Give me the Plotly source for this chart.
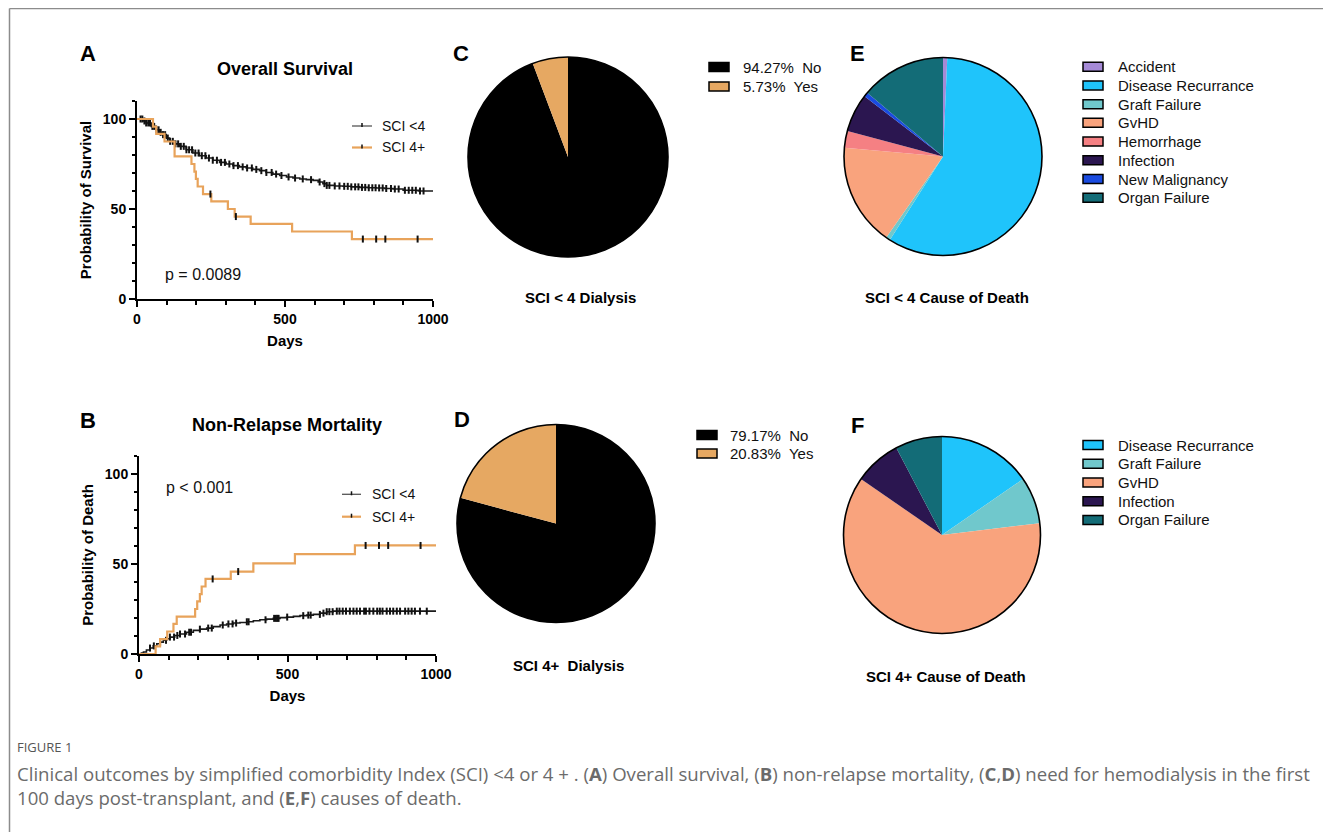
import plotly.graph_objects as go

OFF = 8  # page body margin of the exported html
W, H = 1331 - OFF, 832 - OFF

# ---------------- data ----------------
groups = ["SCI <4", "SCI 4+"]

# Panel A: overall survival (days, %)
os_low_t = [0, 9, 20, 31, 48, 65, 77, 88, 99, 110, 127, 144, 166, 189, 211, 234, 256, 279, 301, 324,
            346, 369, 391, 414, 436, 459, 482, 505, 527, 550, 572, 595, 612, 628, 640, 668, 696, 724,
            752, 781, 809, 837, 865, 899, 950, 1000]
os_low_s = [100, 100, 98.9, 97.8, 95.9, 94.0, 92.6, 91.3, 89.4, 87.6, 86.2, 84.8, 82.9, 81.1, 79.6,
            78.3, 77.1, 75.9, 75.0, 74.1, 73.4, 72.8, 72.0, 71.3, 70.3, 69.4, 68.6, 67.8, 67.2, 66.7,
            66.3, 65.9, 65.0, 64.1, 63.1, 62.8, 62.6, 62.3, 62.0, 61.8, 61.7, 61.4, 61.1, 60.4, 60.0, 59.6]
os_low_cens = [12, 18, 25, 31, 38, 44, 52, 58, 66, 73, 80, 88, 95, 104, 112, 121, 130, 139, 148, 158,
               167, 176, 186, 197, 208, 219, 231, 243, 256, 270, 284, 297, 312, 326, 341, 357, 372, 388,
               403, 420, 437, 455, 470, 488, 512, 534, 560, 588, 617, 633, 641, 650, 668, 684, 700, 712,
               724, 737, 748, 760, 771, 783, 795, 806, 818, 830, 842, 858, 871, 884, 905, 918, 930, 942,
               956, 968]
os_high_t = [0, 54, 65, 93, 127, 184, 194, 199, 205, 223, 251, 307, 330, 384, 524, 726, 1000]
os_high_s = [100, 95.8, 91.7, 87.5, 79.2, 75.0, 70.8, 66.7, 62.5, 58.3, 54.2, 50.0, 45.8, 41.7, 37.5,
             33.3, 33.3]
os_high_cens = [248, 334, 763, 808, 839, 948]

# Panel B: non-relapse mortality (days, %)
nrm_low_t = [0, 8, 15, 25, 37, 48, 60, 70, 82, 93, 104, 120, 138, 160, 183, 205, 228, 250, 273, 295,
             318, 340, 363, 385, 407, 430, 452, 475, 497, 520, 542, 565, 587, 610, 632, 654, 1000]
nrm_low_p = [0, 0.5, 1.1, 2.2, 3.3, 4.5, 5.7, 6.6, 7.6, 8.5, 9.4, 10.3, 11.1, 12.1, 13.1, 13.8, 14.4,
             15.2, 16.1, 16.7, 17.2, 17.5, 17.9, 18.5, 19.0, 19.4, 19.8, 20.2, 20.5, 20.9, 21.3, 21.6,
             22.0, 22.7, 23.5, 23.8, 23.8]
nrm_low_cens = [37, 50, 71, 91, 104, 118, 129, 138, 155, 169, 175, 205, 233, 245, 282, 301, 315, 327,
                363, 369, 426, 455, 461, 466, 470, 499, 553, 570, 578, 609, 621, 632, 641, 652, 666, 675,
                686, 697, 710, 722, 733, 744, 758, 764, 776, 789, 802, 811, 820, 834, 845, 856, 868, 879,
                896, 907, 918, 929, 946, 969]
nrm_high_t = [0, 56, 71, 95, 116, 127, 189, 196, 205, 211, 224, 309, 385, 525, 727, 1000]
nrm_high_p = [0, 4.2, 8.3, 12.5, 16.7, 20.8, 25.0, 29.2, 33.3, 37.5, 41.7, 45.8, 50.4, 55.5, 60.3, 60.3]
nrm_high_cens = [248, 334, 763, 808, 839, 948]

# Panels C, D: dialysis
dial_labels = ["No", "Yes"]
dial_low = [94.27, 5.73]
dial_high = [79.17, 20.83]

# Panels E, F: cause of death (counts)
cod_low_labels = ["Accident", "Disease Recurrance", "Graft Failure", "GvHD", "Hemorrhage",
                  "Infection", "New Malignancy", "Organ Failure"]
cod_low_vals = [1, 84, 1, 24, 4, 9, 1, 20]
cod_high_labels = ["Disease Recurrance", "Graft Failure", "GvHD", "Infection", "Organ Failure"]
cod_high_vals = [2, 1, 8, 1, 1]

# ---------------- styles ----------------
C_LOW = "#1a1a1a"
C_HIGH = "#E8A35B"
DIAL_COLORS = {"No": "#000000", "Yes": "#E6A862"}
COD_COLORS = {
    "Accident": "#A58AD6",
    "Disease Recurrance": "#1FC4FB",
    "Graft Failure": "#70C8CC",
    "GvHD": "#F9A37D",
    "Hemorrhage": "#F58083",
    "Infection": "#2B1650",
    "New Malignancy": "#1A4BE0",
    "Organ Failure": "#136C77",
}
FONT = "Arial, Liberation Sans, sans-serif"


def fx(px):
    return (px - OFF) / W


def fy(py):
    return 1 - (py - OFF) / H


def step_at(ts, ys, t):
    v = ys[0]
    for ti, yi in zip(ts, ys):
        if ti <= t:
            v = yi
        else:
            break
    return v


fig = go.Figure()


def km(t, y, cens, color, width, xa, ya, name):
    fig.add_trace(go.Scatter(x=t, y=y, mode="lines", line=dict(color=color, width=width, shape="hv"),
                             name=name, showlegend=False, xaxis=xa, yaxis=ya))
    fig.add_trace(go.Scatter(x=cens, y=[step_at(t, y, c) for c in cens], mode="markers",
                             marker=dict(symbol="line-ns", size=5, line=dict(color="#111111", width=2)),
                             name=name + " censored", showlegend=False, xaxis=xa, yaxis=ya))


km(os_low_t, os_low_s, os_low_cens, C_LOW, 1.6, "x", "y", groups[0])
km(os_high_t, os_high_s, os_high_cens, C_HIGH, 2.2, "x", "y", groups[1])
km(nrm_low_t, nrm_low_p, nrm_low_cens, C_LOW, 1.6, "x2", "y2", groups[0])
km(nrm_high_t, nrm_high_p, nrm_high_cens, C_HIGH, 2.2, "x2", "y2", groups[1])

# pies
pies = [
    (dial_labels, dial_low, [DIAL_COLORS[l] for l in dial_labels], (568, 157, 100)),
    (dial_labels, dial_high, [DIAL_COLORS[l] for l in dial_labels], (556, 523.5, 99)),
    (cod_low_labels, cod_low_vals, [COD_COLORS[l] for l in cod_low_labels], (943, 156.5, 99)),
    (cod_high_labels, cod_high_vals, [COD_COLORS[l] for l in cod_high_labels], (942, 535, 98.5)),
]
shapes = []
for labels, vals, cols, (cx, cy, r) in pies:
    fig.add_trace(go.Pie(labels=labels, values=vals, sort=False, direction="clockwise", rotation=0,
                         textinfo="none", marker=dict(colors=cols, line=dict(width=0)),
                         domain=dict(x=[fx(cx - r), fx(cx + r)], y=[fy(cy + r), fy(cy - r)]),
                         showlegend=False))
    shapes.append(dict(type="circle", xref="paper", yref="paper", x0=fx(cx - r), x1=fx(cx + r),
                       y0=fy(cy + r), y1=fy(cy - r), line=dict(color="black", width=1.6), layer="above"))

annotations = []


def text(s, px, py, size, bold=False, xanchor="center", color="#000000", family=FONT, yanchor="middle"):
    annotations.append(dict(text=s, x=fx(px), y=fy(py), xref="paper", yref="paper", showarrow=False,
                            xanchor=xanchor, yanchor=yanchor,
                            font=dict(size=size, family=family, color=color,
                                      weight="bold" if bold else "normal")))


# pie legends
def pie_legend(labels, cols, bx0, bx1, y0, dy, tx, bh, texts):
    for i, (lab, col) in enumerate(zip(labels, cols)):
        yc = y0 + i * dy
        shapes.append(dict(type="rect", xref="paper", yref="paper", x0=fx(bx0), x1=fx(bx1),
                           y0=fy(yc + bh / 2), y1=fy(yc - bh / 2), fillcolor=col,
                           line=dict(color="black", width=1.5)))
        text(texts[i], tx, yc, 15, xanchor="left", color="#111111")


pie_legend(dial_labels, [DIAL_COLORS[l] for l in dial_labels], 709, 729, 67, 19.5, 741, 9,
           [f"{v:.2f}%\u00a0 {l}" for v, l in zip(dial_low, dial_labels)])
pie_legend(dial_labels, [DIAL_COLORS[l] for l in dial_labels], 697, 717, 435, 18.5, 728, 9,
           [f"{v:.2f}%\u00a0 {l}" for v, l in zip(dial_high, dial_labels)])
pie_legend(cod_low_labels, [COD_COLORS[l] for l in cod_low_labels], 1083, 1103, 66.7, 18.72, 1116, 9,
           cod_low_labels)
pie_legend(cod_high_labels, [COD_COLORS[l] for l in cod_high_labels], 1083, 1103, 445, 18.75, 1116, 9,
           cod_high_labels)


# KM legends
def km_legend(lx0, lx1, ys, tx):
    for (g, col, w), yc in zip([(groups[0], "#555555", 1.3), (groups[1], C_HIGH, 2.2)], ys):
        shapes.append(dict(type="line", xref="paper", yref="paper", x0=fx(lx0), x1=fx(lx1),
                           y0=fy(yc), y1=fy(yc), line=dict(color=col, width=w)))
        xm = (lx0 + lx1) / 2
        shapes.append(dict(type="line", xref="paper", yref="paper", x0=fx(xm), x1=fx(xm),
                           y0=fy(yc - 3), y1=fy(yc + 1), line=dict(color="#111111", width=1.5)))
        text(g.replace("<", "&lt;"), tx, yc, 14, xanchor="left", color="#111111")


km_legend(352, 372, [126, 147.5], 380)
km_legend(342, 361, [494.3, 516.7], 370)

# p-values
text("p = 0.0089", 163, 274, 16, xanchor="left", color="#111111")
text("p &lt; 0.001", 164, 488, 16, xanchor="left", color="#111111")

# titles and panel letters
text("Overall Survival", 285, 69, 18, bold=True)
text("Non-Relapse Mortality", 287, 425, 18, bold=True)
for L, px, py in [("A", 88, 53), ("B", 88, 420), ("C", 461, 53), ("D", 462, 419), ("E", 858, 53), ("F", 858, 425)]:
    text(L, px, py, 22, bold=True)
text("SCI &lt; 4 Dialysis", 580, 297, 15, bold=True)
text("SCI 4+\u00a0 Dialysis", 568, 665, 15, bold=True)
text("SCI &lt; 4 Cause of Death", 947, 297, 15, bold=True)
text("SCI 4+ Cause of Death", 946, 676, 15, bold=True)

# caption
CAP = "Open Sans, Noto Sans, sans-serif"
text("FIGURE 1", 15, 747, 13, xanchor="left", color="#555555", family=CAP)
text("Clinical outcomes by simplified comorbidity Index (SCI) &lt;4 or 4 + . (<b>A</b>) Overall survival, "
     "(<b>B</b>) non-relapse mortality, (<b>C</b>,<b>D</b>) need for hemodialysis in the first",
     15, 773, 18.6, xanchor="left", color="#6b6b6b", family=CAP)
text("100 days post-transplant, and (<b>E</b>,<b>F</b>) causes of death.", 15, 797, 18.6, xanchor="left",
     color="#6b6b6b", family=CAP)

# frame
shapes.append(dict(type="line", xref="paper", yref="paper", x0=fx(9.5), x1=1, y0=fy(8.5), y1=fy(8.5),
                   line=dict(color="#8c8c8c", width=1.5)))
shapes.append(dict(type="line", xref="paper", yref="paper", x0=fx(9.5), x1=fx(9.5), y0=fy(8.5), y1=0,
                   line=dict(color="#8c8c8c", width=1.5)))

tickfont = dict(family=FONT, size=14, color="#000000", weight="bold")
titlefont = dict(family=FONT, size=15, color="#000000", weight="bold")


def xax(domain, anchor):
    return dict(domain=domain, anchor=anchor, range=[0, 1000], tickvals=[0, 500, 1000], ticks="outside",
                ticklen=6, tickwidth=2, tickcolor="black", showline=True, linewidth=2, linecolor="black",
                showgrid=False, zeroline=False, tickfont=tickfont,
                minor=dict(dtick=100, tick0=0, ticks="outside", ticklen=3.5, tickwidth=1.5,
                           tickcolor="black", showgrid=False),
                title=dict(text="Days", font=titlefont, standoff=10), automargin=False, fixedrange=True)


def yax(domain, anchor, title):
    return dict(domain=domain, anchor=anchor, range=[0, 110], tickvals=[0, 50, 100], ticks="outside",
                ticklen=6, tickwidth=2, tickcolor="black", showline=True, linewidth=2, linecolor="black",
                showgrid=False, zeroline=False, tickfont=tickfont,
                minor=dict(dtick=10, tick0=0, ticks="outside", ticklen=3.5, tickwidth=1.5,
                           tickcolor="black", showgrid=False),
                title=dict(text=title, font=titlefont, standoff=8), automargin=False, fixedrange=True)


fig.update_layout(
    width=W, height=H, margin=dict(l=0, r=0, t=0, b=0, pad=0),
    paper_bgcolor="white", plot_bgcolor="white", showlegend=False,
    xaxis=xax([fx(137), fx(433)], "y"),
    yaxis=yax([fy(299), fy(101)], "x", "Probability of Survival"),
    xaxis2=xax([fx(139), fx(436)], "y2"),
    yaxis2=yax([fy(654), fy(456)], "x2", "Probability of Death"),
    shapes=shapes, annotations=annotations,
    font=dict(family=FONT),
)

fig.write_html("out.html")
